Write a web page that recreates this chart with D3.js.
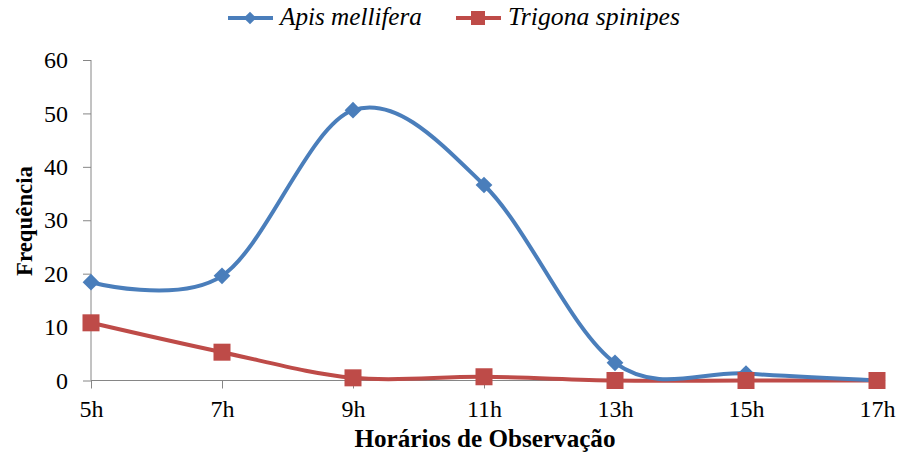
<!DOCTYPE html>
<html><head><meta charset="utf-8">
<script src="https://cdn.jsdelivr.net/npm/d3@7"></script>
<style>body{margin:0;background:#fff}</style>
</head><body><svg id="c" width="902" height="455"></svg>
<script>
const categories = ["5h","7h","9h","11h","13h","15h","17h"];
const apis = [18.4, 19.6, 50.6, 36.6, 3.3, 1.3, 0];
const trigona = [10.8, 5.3, 0.5, 0.7, 0, 0, 0];
const yTicks = [0,10,20,30,40,50,60];
const seriesNames = ["Apis mellifera","Trigona spinipes"];

const FONT = '"Liberation Serif", "Times New Roman", serif';
const svg = d3.select("#c");
const x = d3.scalePoint().domain(categories).range([91, 877]);
const y = d3.scaleLinear().domain([0,60]).range([380.5, 60]);
const grey = "#868686";

function fit(sel, target, base){
  sel.style("font-size", base+"px");
  const w = sel.node().getComputedTextLength();
  sel.style("font-size", (base*target/w).toFixed(2)+"px");
}

const yAxis = svg.append("g").attr("transform","translate(91,0)")
  .call(d3.axisLeft(y).tickValues(yTicks).tickSize(8).tickPadding(15));
const xAxis = svg.append("g").attr("transform","translate(0,380.5)")
  .call(d3.axisBottom(x).tickSize(8).tickPadding(11));
[yAxis,xAxis].forEach(a=>{
  a.attr("font-family", null);
  a.selectAll("path").attr("stroke",grey).attr("stroke-width",1);
  a.selectAll("line").attr("stroke",grey);
  a.selectAll("text").attr("fill","#000").style("font-family",FONT).style("font-size","24px");
});
xAxis.select(".domain").attr("d","M91,0H877");
yAxis.select(".domain").attr("d","M0,60V380.5");

const line = d3.line().x((d,i)=>x(categories[i])).y(d=>y(d)).curve(d3.curveCardinal.tension(0));
const blue = "#4A7EBB", red = "#BE4B48";

svg.append("path").datum(trigona).attr("d",line).attr("fill","none").attr("stroke",red).attr("stroke-width",4);
svg.append("path").datum(apis).attr("d",line).attr("fill","none").attr("stroke",blue).attr("stroke-width",4);

const diamond = d3.symbol().type(d3.symbolSquare).size(140);
svg.selectAll(".dm").data(apis).enter().append("path")
  .attr("d",diamond())
  .attr("transform",(d,i)=>`translate(${x(categories[i])},${y(d)}) rotate(45)`)
  .attr("fill",blue);
svg.selectAll(".sq").data(trigona).enter().append("rect")
  .attr("x",(d,i)=>x(categories[i])-8.5).attr("y",d=>y(d)-8.5)
  .attr("width",17).attr("height",17).attr("fill",red);

// legend
const lg = svg.append("g");
lg.append("line").attr("x1",228).attr("x2",273).attr("y1",18).attr("y2",18).attr("stroke",blue).attr("stroke-width",4);
lg.append("path").attr("d",d3.symbol().type(d3.symbolSquare).size(80)()).attr("transform","translate(250,18) rotate(45)").attr("fill",blue);
const t1 = lg.append("text").attr("x",280).attr("y",25).style("font-family",FONT).style("font-style","italic").text(seriesNames[0]);
fit(t1, 142, 24);
lg.append("line").attr("x1",456).attr("x2",501).attr("y1",18).attr("y2",18).attr("stroke",red).attr("stroke-width",4);
lg.append("rect").attr("x",471).attr("y",11).attr("width",14).attr("height",14).attr("fill",red);
const t2 = lg.append("text").attr("x",508).attr("y",25).style("font-family",FONT).style("font-style","italic").text(seriesNames[1]);
fit(t2, 172, 24);

const xt = svg.append("text").attr("x",485).attr("y",447).attr("text-anchor","middle")
  .style("font-family",FONT).style("font-weight","bold").text("Horários de Observação");
fit(xt, 261, 24);
const yt = svg.append("text").attr("transform","translate(32,221) rotate(-90)").attr("text-anchor","middle")
  .style("font-family",FONT).style("font-weight","bold").text("Frequência");
fit(yt, 110, 24);
</script></body></html>
